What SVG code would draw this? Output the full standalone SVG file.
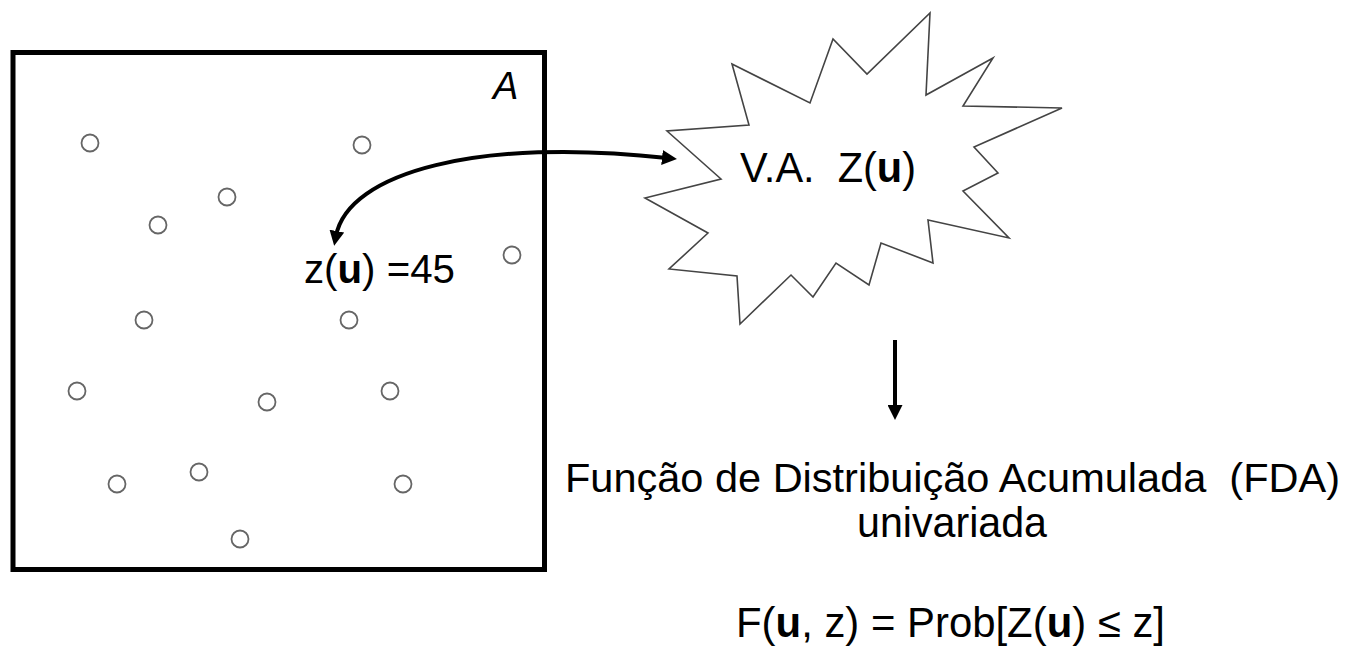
<svg xmlns="http://www.w3.org/2000/svg" width="1346" height="647" viewBox="0 0 1346 647">
<style>
text{font-family:"Liberation Sans",Arial,sans-serif;fill:#000;white-space:pre}
.b{font-weight:bold}
.pt{fill:none;stroke:#666;stroke-width:1.8}
.conn{fill:none;stroke:#000;stroke-width:4}
</style>
<defs>
<marker id="ah" viewBox="0 0 15 15" refX="5" refY="7.5" markerWidth="15" markerHeight="15" markerUnits="userSpaceOnUse" orient="auto-start-reverse">
<path d="M0,0 L15,7.5 L0,15 z" fill="#000"/>
</marker>
</defs>
<rect width="1346" height="647" fill="#fff"/>
<g id="area">
<rect x="13" y="52.5" width="531.5" height="517" fill="none" stroke="#000" stroke-width="5"/>
<text x="493" y="99" font-size="38" font-style="italic">A</text>
</g>
<g id="points">
<circle class="pt" cx="90" cy="143" r="8.5"/>
<circle class="pt" cx="362" cy="145" r="8.5"/>
<circle class="pt" cx="227" cy="197" r="8.5"/>
<circle class="pt" cx="158" cy="225" r="8.5"/>
<circle class="pt" cx="512" cy="255" r="8.5"/>
<circle class="pt" cx="144" cy="320" r="8.5"/>
<circle class="pt" cx="349" cy="320" r="8.5"/>
<circle class="pt" cx="77" cy="391" r="8.5"/>
<circle class="pt" cx="267" cy="402" r="8.5"/>
<circle class="pt" cx="390" cy="391" r="8.5"/>
<circle class="pt" cx="117" cy="484" r="8.5"/>
<circle class="pt" cx="199" cy="472" r="8.5"/>
<circle class="pt" cx="403" cy="484" r="8.5"/>
<circle class="pt" cx="240" cy="539" r="8.5"/>
</g>
<g id="value">
<text x="304" y="283" font-size="40" textLength="151" lengthAdjust="spacingAndGlyphs">z(<tspan class="b">u</tspan>) =45</text>
</g>
<g id="va">
<polygon points="732,64 810,103 833,39 867,74 930,13 926,95 993,58 963,106 1062,108 974,147 998,173 963,191 1009,238 928,220 933,263 881,243 869,285 836,263 813,297 791,275 740,324 737,276 669,269 708,233 645,198 721,179 667,131 749,125" fill="#fff" stroke="#444" stroke-width="1.6" stroke-linejoin="miter"/>
<text x="740" y="182" font-size="42" textLength="176" lengthAdjust="spacingAndGlyphs">V.A.  Z(<tspan class="b">u</tspan>)</text>
</g>
<g id="fda">
<text x="565" y="492" font-size="41.5" textLength="775" lengthAdjust="spacingAndGlyphs">Função de Distribuição Acumulada  (FDA)</text>
<text x="857" y="537" font-size="42" textLength="190" lengthAdjust="spacingAndGlyphs">univariada</text>
</g>
<g id="formula">
<text x="736" y="637" font-size="42" textLength="429" lengthAdjust="spacingAndGlyphs">F(<tspan class="b">u</tspan>, z) = Prob[Z(<tspan class="b">u</tspan>) ≤ z]</text>
</g>
<g id="connectors">
<path class="conn" d="M336,236 C348,172 480,137 667,158" marker-start="url(#ah)" marker-end="url(#ah)"/>
<path class="conn" d="M895,340 L895,410" marker-end="url(#ah)"/>
</g>
</svg>
